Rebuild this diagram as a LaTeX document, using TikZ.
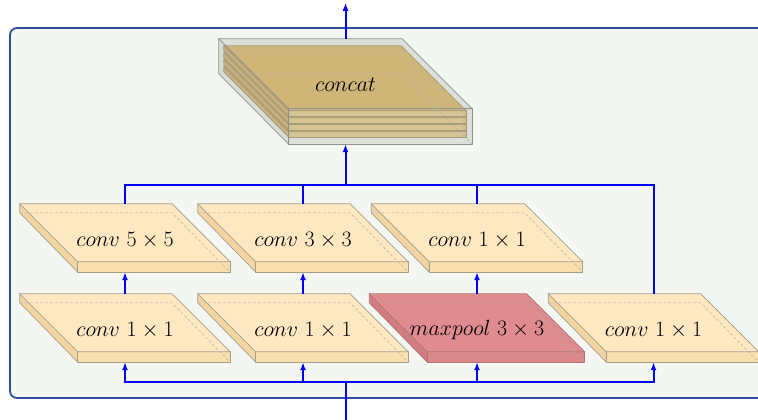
\RequirePackage{fix-cm}
\documentclass[tikz,border=0pt]{standalone}
\usepackage{tikz}
\usetikzlibrary{positioning, calc, arrows.meta}
\definecolor{frameCol}{HTML}{2E4E9E}
\definecolor{frameFill}{HTML}{F4F7F1}
\definecolor{busCol}{HTML}{0000FF}
\definecolor{convTop}{HTML}{FDE8C2}
\definecolor{convFront}{HTML}{F9DEAE}
\definecolor{convSide}{HTML}{F3D5A4}
\definecolor{convEdge}{HTML}{A79D8B}
\definecolor{poolTop}{HTML}{E08B8F}
\definecolor{poolFront}{HTML}{D9878B}
\definecolor{poolSide}{HTML}{D07C80}
\definecolor{poolEdge}{HTML}{B47477}
\definecolor{layerTop}{HTML}{DFB65A}
\definecolor{layerFront}{HTML}{EACB84}
\definecolor{layerSide}{HTML}{D8B46A}
\definecolor{layerEdge}{HTML}{9C8A5E}
\definecolor{shellTop}{HTML}{B4B6B0}
\definecolor{shellFront}{HTML}{B4B6B0}
\definecolor{shellSide}{HTML}{ACAEA8}
\definecolor{shellEdge}{HTML}{8F918B}

% slab drawn into the box of a node: node, depth, thickness, colour set
\newcommand\slab[5][]{%
  \path (#2.north west) coordinate (sa)
        ($(#2.north east)+(-#3,0)$) coordinate (sb)
        ($(#2.north east)+(0,#3)$) coordinate (sc)
        ($(#2.north west)+(#3,#3)$) coordinate (sd)
        ($(#2.north west)+(0,#4)$) coordinate (sa2)
        ($(#2.north east)+(-#3,#4)$) coordinate (sb2)
        (#2.south east) coordinate (sc2)
        ($(#2.south west)+(#3,0)$) coordinate (sd2);
  \filldraw[fill=#5Side, draw=#5Edge, line width=0.7pt, line join=round, #1]
    (sa) -- (sa2) -- (sd2) -- (sd) -- cycle;
  \filldraw[fill=#5Front, draw=#5Edge, line width=0.7pt, line join=round, #1]
    (sd) -- (sc) -- (sc2) -- (sd2) -- cycle;
  \filldraw[fill=#5Top, draw=#5Edge, line width=0.7pt, line join=round, #1]
    (sa) -- (sb) -- (sc) -- (sd) -- cycle;
  \draw[hiddenedge] (sa2) -- (sb2) -- (sc2);
}

\begin{document}
\begin{tikzpicture}[x=1pt, y=-1pt,
    box/.style={rectangle, inner sep=0pt, minimum height=68},
    lbl/.style={inner sep=0pt, font=\fontsize{22}{26}\selectfont},
    bus/.style={draw=busCol, line width=2pt},
    flow/.style={bus, -{Latex[length=8pt,width=6pt]}},
    hiddenedge/.style={draw=gray!60, line width=0.5pt, dash pattern=on 3pt off 2pt}]

  \useasboundingbox (0,0) rectangle (758,420);
  \begin{scope}
    \clip (0,0) rectangle (758,420);
    \filldraw[fill=frameFill, draw=frameCol, line width=1.8pt, rounded corners=7pt]
      (10,28) rectangle (790,398);
  \end{scope}

  % concatenation of the four branches
  \node[box, minimum width=253, minimum height=105] (concat) at (345.5,91.5) {};
  \foreach \i in {3,2,1,0}{
    \node[box, minimum width=242, minimum height=70, anchor=north west]
      (lay\i) at ($(concat.north west)+(5,{7+7*\i})$) {};
    \slab{lay\i}{65}{5}{layer}
  }
  \slab[fill opacity=0.35]{concat}{70}{35}{shell}
  \node[lbl] (concat-t) at ($(concat.center)+(0,-7)$) {$concat$};

  % branches
  \foreach \nm/\x/\y/\w/\set/\txt in {
      c5/125/238/210/conv/{conv~5\times5},
      c3/303/238/210/conv/{conv~3\times3},
      c1/477/238/211/conv/{conv~1\times1},
      r1/125/328/210/conv/{conv~1\times1},
      r2/303/328/210/conv/{conv~1\times1},
      pool/477/328/215/pool/{maxpool~3\times3},
      r4/653.5/328/210/conv/{conv~1\times1}
    }{
    \node[box, minimum width=\w] (\nm) at (\x,\y) {};
    \slab{\nm}{58}{9}{\set}
    \node[lbl] (\nm-t) at ($(\nm.center)+(0,2)$) {$\txt$};
  }

  % connectors
  \coordinate (in) at (346,420);
  \coordinate (split) at (346,382);
  \coordinate (merge) at ($(concat.south)+(0,41)$);
  \coordinate (out) at ($(concat.north)+(0,-36)$);

  \draw[bus] (in) -- (split);
  \foreach \n in {r1,r2,pool,r4}
    \draw[flow] (split) -| (\n.south);
  \draw[flow] (r1.north) -- (c5.south);
  \draw[flow] (r2.north) -- (c3.south);
  \draw[flow] (pool.north) -- (c1.south);
  \foreach \n in {c5,c3,c1,r4}
    \draw[bus] (\n.north) |- (merge);
  \draw[flow] (merge) -- (concat.south);
  \draw[flow] (concat.north) -- (out);
\end{tikzpicture}
\end{document}
